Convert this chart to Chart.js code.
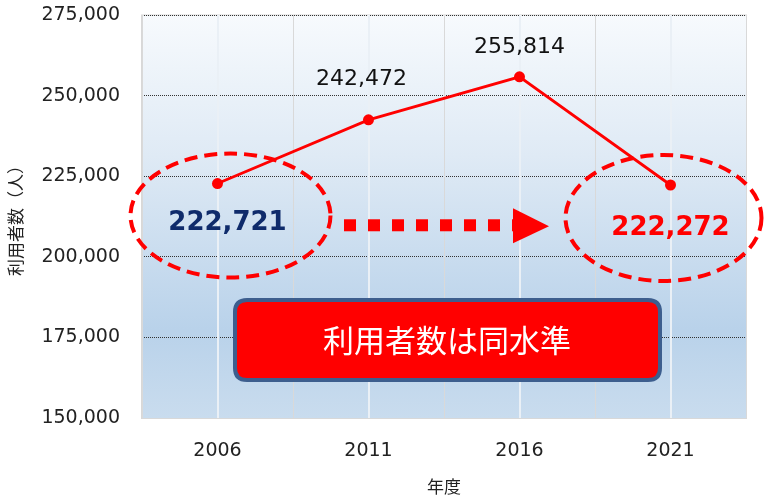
<!DOCTYPE html>
<html>
<head>
<meta charset="utf-8">
<script src="https://cdn.jsdelivr.net/npm/chart.js@4.4.1/dist/chart.umd.min.js"></script>
<style>
html,body{margin:0;padding:0;background:#fff;}
#wrap{width:764px;height:500px;}
</style>
</head>
<body>
<div id="wrap"><canvas id="c" width="764" height="500"></canvas></div>
<script>
const years = ['2006', '2011', '2016', '2021'];
const users = [222721, 242472, 255814, 222272];
const yMin = 150000;
const yMax = 275000;
const yStep = 25000;
const yTitle = '利用者数（人）';
const xTitle = '年度';
const calloutText = '利用者数は同水準';

const FONT = '"DejaVu Sans", "Noto Sans CJK JP", sans-serif';
const JP = '"Noto Sans CJK JP", sans-serif';
const fmt = v => v.toLocaleString('en-US');

const bgPlugin = {
  id: 'bg',
  beforeDraw(chart) {
    const {ctx, chartArea: a} = chart;
    const g = ctx.createLinearGradient(0, a.top, 0, a.bottom);
    g.addColorStop(0, '#f7fafd');
    g.addColorStop(0.35, '#dfeaf5');
    g.addColorStop(0.78, '#b9d2ea');
    g.addColorStop(1, '#c9dcee');
    ctx.save();
    ctx.fillStyle = g;
    ctx.fillRect(a.left, a.top, a.right - a.left, a.bottom - a.top);
    ctx.strokeStyle = '#d8d8d8';
    ctx.lineWidth = 1;
    ctx.strokeRect(a.left - 0.5, a.top, a.right - a.left + 1, a.bottom - a.top + 0.5);
    ctx.restore();
  }
};

function roundRect(ctx, x, y, w, h, r) {
  ctx.beginPath();
  ctx.moveTo(x + r, y);
  ctx.lineTo(x + w - r, y);
  ctx.quadraticCurveTo(x + w, y, x + w, y + r);
  ctx.lineTo(x + w, y + h - r);
  ctx.quadraticCurveTo(x + w, y + h, x + w - r, y + h);
  ctx.lineTo(x + r, y + h);
  ctx.quadraticCurveTo(x, y + h, x, y + h - r);
  ctx.lineTo(x, y + r);
  ctx.quadraticCurveTo(x, y, x + r, y);
  ctx.closePath();
}

const overlayPlugin = {
  id: 'overlay',
  afterDatasetsDraw(chart) {
    const {ctx} = chart;
    const meta = chart.getDatasetMeta(0);
    const pts = meta.data.map(p => ({x: p.x, y: p.y}));
    ctx.save();
    ctx.textAlign = 'center';
    ctx.textBaseline = 'middle';

    // plain data labels (middle points)
    ctx.font = '22px ' + FONT;
    ctx.fillStyle = '#111';
    ctx.fillText(fmt(users[1]), pts[1].x - 7, pts[1].y - 41);
    ctx.fillText(fmt(users[2]), pts[2].x, pts[2].y - 30);

    // highlighted labels
    ctx.font = 'bold 26px ' + FONT;
    ctx.fillStyle = '#0f2b6b';
    ctx.fillText(fmt(users[0]), pts[0].x + 10, pts[0].y + 40);
    ctx.fillStyle = '#ff0000';
    ctx.fillText(fmt(users[3]), pts[3].x, pts[3].y + 43);

    // dashed ellipses
    ctx.strokeStyle = '#ff0000';
    ctx.lineWidth = 4;
    ctx.setLineDash([13, 7]);
    ctx.beginPath();
    ctx.ellipse(pts[0].x + 13, pts[0].y + 32, 100, 62, 0, 0, Math.PI * 2);
    ctx.stroke();
    ctx.beginPath();
    ctx.ellipse(pts[3].x - 7, pts[3].y + 33, 98, 63, 0, 0, Math.PI * 2);
    ctx.stroke();
    ctx.setLineDash([]);

    // dotted arrow
    ctx.fillStyle = '#ff0000';
    const ay = (pts[0].y + pts[3].y) / 2 + 41;
    for (let i = 0; i < 8; i++) {
      ctx.fillRect(344 + i * 24, ay - 6, 12, 12);
    }
    ctx.beginPath();
    ctx.moveTo(513, ay - 17);
    ctx.lineTo(549, ay + 1);
    ctx.lineTo(513, ay + 18);
    ctx.closePath();
    ctx.fill();

    // callout box
    roundRect(ctx, 235, 300, 425, 80, 12);
    ctx.fillStyle = '#ff0000';
    ctx.fill();
    ctx.lineWidth = 4;
    ctx.strokeStyle = '#3d5e8e';
    ctx.stroke();
    ctx.fillStyle = '#ffffff';
    ctx.font = '31px ' + JP;
    ctx.fillText(calloutText, 447, 340);

    ctx.restore();
  }
};

new Chart(document.getElementById('c'), {
  type: 'line',
  data: {
    labels: years,
    datasets: [{
      data: users,
      borderColor: '#ff0000',
      backgroundColor: '#ff0000',
      borderWidth: 2.8,
      pointRadius: 5.5,
      pointHoverRadius: 5.5,
      pointBackgroundColor: '#ff0000',
      pointBorderWidth: 0,
      tension: 0
    }]
  },
  options: {
    responsive: false,
    animation: false,
    events: [],
    layout: {padding: {left: 0, right: 18, top: 15, bottom: 0}},
    plugins: {legend: {display: false}, tooltip: {enabled: false}},
    scales: {
      y: {
        min: yMin, max: yMax,
        afterFit(s) { s.width = 142; s.paddingTop = 0; s.paddingBottom = 0; },
        ticks: {
          stepSize: yStep,
          padding: 22,
          color: '#222',
          font: {family: FONT, size: 19},
          callback: v => fmt(v)
        },
        grid: {
          drawTicks: false,
          lineWidth: 1,
          color: ctx => (ctx.tick && ctx.tick.value === yMin) ? 'rgba(0,0,0,0)' : '#333'
        },
        border: {display: false, dash: [1, 1]},
        title: {display: true, text: yTitle, color: '#222', font: {family: JP, size: 17}, padding: {top: 5, bottom: 0}}
      },
      x: {
        offset: true,
        afterFit(s) { s.height = 82; s.paddingLeft = 0; s.paddingRight = 0; },
        ticks: {padding: 22, color: '#222', font: {family: FONT, size: 19}},
        grid: {offset: false, drawTicks: false, color: '#eaf0f6', lineWidth: 2},
        border: {display: false},
        title: {display: true, text: xTitle, color: '#222', font: {family: JP, size: 17}, padding: {top: 4, bottom: 3}}
      },
      x2: {
        type: 'category',
        labels: years,
        position: 'bottom',
        offset: true,
        afterFit(s) { s.height = 0; s.paddingLeft = 0; s.paddingRight = 0; },
        ticks: {display: false},
        grid: {offset: true, drawTicks: false, color: '#d9d9d9', lineWidth: 1},
        border: {display: false}
      }
    }
  },
  plugins: [bgPlugin, overlayPlugin]
});
</script>
</body>
</html>
